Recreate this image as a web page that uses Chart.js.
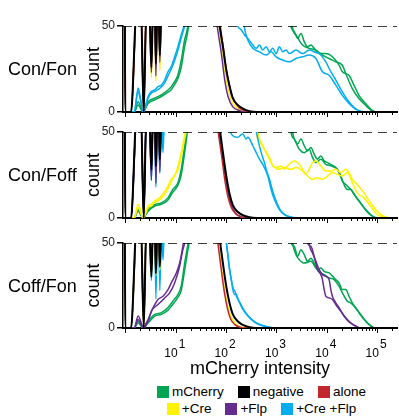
<!DOCTYPE html>
<html lang="en">
  <head>
    <meta charset="utf-8" />
    <title>mCherry intensity histograms</title>
    <style>
      html, body { margin: 0; padding: 0; background: #fff; overflow: hidden; }
      #wrap { position: relative; width: 399px; height: 416px; font-family: "Liberation Sans", Arial, sans-serif; }
      canvas { position: absolute; left: 0; }
      #legend { position: absolute; left: 124px; top: 383px; width: 275px; font-size: 13.5px; color: #000; }
      .row { display: flex; justify-content: center; height: 17px; line-height: 17px; }
      .item { display: flex; align-items: center; margin: 0 7px; }
      .sw { width: 12px; height: 12px; margin-right: 3px; }
    </style>
  </head>
  <body>
    <div id="wrap">
      <canvas id="c0" width="399" height="122" style="top: 0px"></canvas>
      <canvas id="c1" width="399" height="106" style="top: 122px"></canvas>
      <canvas id="c2" width="399" height="153" style="top: 228px"></canvas>
      <div id="legend"></div>
    </div>

    <script src="https://cdn.jsdelivr.net/npm/chart.js"></script>

    <script>
      const FONT = '"Liberation Sans", Arial, sans-serif';

      const groupNames = ["mCherry", "negative", "alone", "+Cre", "+Flp", "+Cre +Flp"];
      const groupColors = ["#00a651", "#000000", "#c1272d", "#fff200", "#662d91", "#00aeef"];
      const rowNames = ["Con/Fon", "Con/Foff", "Coff/Fon"];
      const xTickPowers = [1, 2, 3, 4, 5];
      const xMin = 0.9;
      const xMax = 2.5e5;
      const saturation = 50;

      // ---- Con/Fon ----
      const conFon_negative = [[0.97,95],[1,0],[1.3,0],[1.68,60],[2.05,60],[2.32,0],[2.62,60],[3,60],[3.3,26],[3.56,60],[3.85,60],[4.05,28],[4.35,60],[4.6,60],[4.85,33],[5.2,60],[8,85],[40,90],[68,62],[75,50],[87,38],[102,24],[118,15],[137,8],[173,4],[217,2],[294,0.5],[400,0],[2.5e5,0]];
      const conFon_alone = [[0.97,95],[1,0],[1.3,0],[1.7,60],[2.05,60],[2.32,3],[2.62,60],[3,60],[3.3,30],[3.56,60],[3.85,60],[4.05,31],[4.35,60],[4.6,60],[4.85,36],[5.2,60],[8,85],[40,90],[70,62],[77,50],[89,37],[100,26],[116,16],[135,8.5],[165,4],[200,1.6],[260,0.4],[330,0],[2.5e5,0]];
      const conFon_cre = [[0.97,95],[1,0],[1.3,0],[1.7,60],[2.05,60],[2.32,1],[2.62,60],[3,60],[3.3,20],[3.56,60],[3.85,60],[4.05,18],[4.35,60],[4.6,60],[4.85,24],[5.2,60],[8,85],[40,90],[66,62],[73,50],[84,36],[97,22],[112,13],[130,6.5],[155,3],[190,1.2],[240,0.3],[300,0],[2.5e5,0]];
      const conFon_flp = [[0.97,95],[1,0],[1.3,0],[1.7,60],[2.05,60],[2.32,0],[2.62,60],[3,60],[3.3,23],[3.56,60],[3.85,60],[4.05,21],[4.35,60],[4.6,60],[4.85,29],[5.2,60],[8,85],[40,90],[60,62],[67,50],[81,34],[94,19],[110,9],[137,3],[187,0.8],[240,0],[2.5e5,0]];
      const conFon_creflp_a = [[0.97,95],[1,0],[1.5,0],[1.8,14],[2,8],[2.26,0],[2.84,9],[3.3,12],[3.85,12.8],[4.47,14.7],[5.19,15.7],[6.06,18.6],[7.05,23.4],[8.19,26.4],[9.55,32],[11.1,38],[12.9,44.8],[15.1,52],[20,80],[120,80],[161,52],[201,47.7],[234,44.8],[272,42.8],[342,38.9],[399,37],[463,38.9],[538,36],[628,37.9],[731,35],[849,37],[991,34],[1151,37.9],[1340,35],[1563,36],[1816,34],[2460,36],[3327,34],[4508,36],[6118,34.6],[7115,34],[9640,29.2],[11190,25.3],[15200,18.5],[20530,11.7],[27850,5.8],[37760,1.9],[47440,0.4],[60000,0],[2.5e5,0]];
      const conFon_creflp_b = [[0.97,95],[1,0],[1.5,0],[1.8,12],[2,7],[2.26,0],[2.84,8],[3.3,11],[3.85,12],[4.47,13],[5.19,14.5],[6.06,17],[7.05,21],[8.19,25],[9.55,30],[11.1,36],[12.9,43],[15.1,50],[17,56],[20,80],[180,80],[234,48.7],[272,41.8],[342,37],[463,35],[628,33.1],[789,35],[991,32.1],[1340,30.2],[1816,29.2],[2460,31.1],[3327,32.1],[4508,33.1],[6118,31.1],[8265,23.4],[11190,21.4],[15200,15.6],[20530,9.7],[27850,4.9],[37760,1.6],[50000,0],[2.5e5,0]];
      const conFon_mcherry_a = [[1,0],[1.5,0],[1.8,6],[2.26,0],[2.84,6],[3.85,8],[5.19,10],[7.05,12.8],[8.19,14.7],[9.55,17.6],[11.1,21.5],[12.9,30],[15.1,42],[17.5,50],[22,80],[1500,80],[1959,49.6],[2278,46.7],[2650,42.8],[3091,45.7],[3591,40.9],[4181,37.9],[4874,38.9],[5662,37],[7115,34],[9640,34],[13030,32.1],[17660,27.2],[20530,23.4],[23950,22.4],[27850,21.4],[34920,15.6],[43850,9.7],[59570,4.9],[80400,1],[100000,0],[2.5e5,0]];
      const conFon_mcherry_b = [[1,0],[1.5,0],[1.8,4],[2.26,0],[2.84,5],[3.85,7],[5.19,9],[7.05,11.5],[8.19,13],[9.55,16],[11.1,19.5],[12.9,26],[15.1,38],[17.5,47],[19,55],[24,80],[1700,80],[2113,48.6],[2460,44.8],[3327,38.9],[4508,37],[6118,36],[8265,33.1],[11190,31.1],[15200,29.2],[20530,27.2],[23950,22.4],[32380,13.6],[43850,7.8],[59570,3.9],[80400,0.6],[100000,0],[2.5e5,0]];

      // ---- Con/Foff ----
      const conFoff_negative = [[0.97,95],[1,0],[1.3,0],[1.68,60],[2.05,60],[2.32,0],[2.62,60],[3,60],[3.3,28],[3.56,60],[3.85,60],[4.05,30],[4.35,60],[4.6,60],[4.85,34],[5.2,60],[8,85],[40,90],[70,62],[77,50],[88,37],[102,24],[118,14],[137,7.5],[173,3.5],[217,1.6],[294,0.4],[400,0],[2.5e5,0]];
      const conFoff_alone = [[0.97,95],[1,0],[1.3,0],[1.7,60],[2.05,60],[2.32,2],[2.62,60],[3,60],[3.3,32],[3.56,60],[3.85,60],[4.05,33],[4.35,60],[4.6,60],[4.85,38],[5.2,60],[8,85],[40,90],[62,62],[70,50],[82,36],[95,22],[110,12],[128,6],[155,2.5],[190,0.8],[240,0],[2.5e5,0]];
      const conFoff_flp = [[0.97,95],[1,0],[1.3,0],[1.7,60],[2.05,60],[2.32,0],[2.62,60],[3,60],[3.3,22],[3.56,60],[3.85,60],[4.05,20],[4.35,60],[4.6,60],[4.85,27],[5.2,60],[8,85],[40,90],[66,62],[73,50],[85,36],[98,23],[113,13],[132,6.5],[160,2.5],[200,0.8],[250,0],[2.5e5,0]];
      const conFoff_creflp_a = [[0.97,95],[1,0],[1.3,0],[1.7,60],[2.05,60],[2.32,2],[2.62,60],[3,60],[3.3,22],[3.56,60],[3.85,60],[4.05,18],[4.35,60],[4.6,60],[4.85,26],[5.2,60],[5.6,38],[6,60],[8,85],[80,85],[110,60],[128,48.8],[173,46.9],[201,48.5],[217,48.8],[250,46],[272,46.9],[342,42],[399,38],[463,34.2],[538,31.2],[678,24.4],[789,16.6],[917,10.7],[1151,4.9],[1445,2],[1959,0.6],[2600,0],[2.5e5,0]];
      const conFoff_creflp_b = [[0.97,95],[1,0],[1.3,0],[1.7,60],[2.05,60],[2.32,3],[2.62,60],[3,60],[3.3,26],[3.56,60],[3.85,60],[4.05,22],[4.35,60],[4.6,60],[4.85,30],[5.2,60],[5.6,44],[6,60],[8,85],[300,85],[399,51],[430,45.9],[501,38],[582,32.2],[628,28.3],[731,22.5],[849,15.6],[991,9.8],[1245,3.9],[1679,1],[2278,0],[2.5e5,0]];
      const conFoff_cre_a = [[0.97,95],[1,0],[1.5,0],[1.8,8],[2.26,0],[2.84,7],[3.3,8],[3.85,10],[4.47,11],[5.61,14],[7.05,18.6],[8.19,22.5],[9.55,24.4],[11.1,30],[12.9,38],[15.1,48],[16.5,53],[20,80],[300,80],[399,49.8],[463,44.9],[582,40],[731,35.2],[849,30.3],[991,29.3],[1245,30.3],[1445,28.3],[1679,30.3],[1959,32.2],[2278,33.2],[2866,31.2],[3327,28.3],[3880,25.4],[4508,28.3],[5241,32.2],[6118,33.2],[7674,30.3],[9640,27.3],[12100,27.3],[15200,28.3],[19090,26.4],[23950,28.3],[27850,26.4],[32380,22.5],[40640,19.5],[55100,14.6],[74800,8.8],[101000,3.9],[136900,1],[185700,0],[2.5e5,0]];
      const conFoff_cre_b = [[0.97,95],[1,0],[1.5,0],[1.8,6],[2.26,0],[2.84,6],[3.3,7],[3.85,9],[4.47,10],[5.61,12.5],[7.05,17],[8.19,21],[9.55,25],[11.1,28],[12.9,36],[15.1,46],[16.5,52],[20,80],[330,80],[430,49.8],[501,43.9],[628,38],[789,32.2],[1067,28.3],[1445,29.3],[1959,28.3],[2460,29.3],[3327,27.3],[4181,24.4],[5241,22.5],[6579,23.4],[8265,22.5],[10380,24.4],[13030,26.4],[16340,25.4],[20530,24.4],[25770,26.4],[32380,20.5],[40640,14.6],[55100,11.7],[74800,6.8],[93800,2.9],[117800,1],[159300,0],[2.5e5,0]];
      const conFoff_mcherry_a = [[1,0],[1.5,0],[1.8,5],[2.26,0],[2.84,5],[3.85,7.8],[5.19,8.8],[7.05,11.7],[8.8,16.6],[11.1,20.5],[12.9,28.3],[15.1,42],[16.3,50],[20,80],[1600,80],[1959,49.8],[2278,45.9],[2650,43],[3091,45.9],[3591,42],[4181,39],[4874,41],[5662,37.1],[6579,34.2],[7674,36.1],[8928,33.2],[10380,32.2],[12100,31.2],[15200,29.3],[17660,26.4],[20530,21.5],[23950,19.5],[27850,17.6],[32380,15.6],[37760,12.7],[47440,8.8],[59570,4.9],[74800,2],[86900,0.6],[100000,0],[2.5e5,0]];
      const conFoff_mcherry_b = [[1,0],[1.5,0],[1.8,4],[2.26,0],[2.84,4],[3.85,7],[5.19,8],[7.05,10.5],[8.8,15],[11.1,19],[12.9,25],[15.1,38],[17,50],[21,80],[1700,80],[2113,49.8],[2460,43.9],[2866,40],[3591,38],[4508,40],[5241,35.2],[6118,32.2],[7674,34.2],[9640,31.2],[12100,30.3],[16340,28.3],[19090,24.4],[22190,19.5],[25770,16.6],[30080,16.6],[34920,13.7],[43850,9.8],[55100,5.9],[69200,2.5],[86900,0.6],[100000,0],[2.5e5,0]];

      // ---- Coff/Fon ----
      const coffFon_negative = [[0.97,95],[1,0],[1.3,0],[1.68,60],[2.05,60],[2.32,0],[2.62,60],[3,60],[3.3,30],[3.56,60],[3.85,60],[4.05,32],[4.35,60],[4.6,60],[4.85,36],[5.2,60],[8,85],[40,90],[70,62],[77,50],[88,37],[102,24],[118,14.5],[137,8],[173,3.8],[217,1.8],[294,0.4],[400,0],[2.5e5,0]];
      const coffFon_alone = [[0.97,95],[1,0],[1.3,0],[1.7,60],[2.05,60],[2.32,2],[2.62,60],[3,60],[3.3,33],[3.56,60],[3.85,60],[4.05,35],[4.35,60],[4.6,60],[4.85,38],[5.2,60],[8,85],[40,90],[62,62],[69,50],[80,35],[93,21],[108,11],[125,5],[150,2],[185,0.6],[230,0],[2.5e5,0]];
      const coffFon_cre = [[0.97,95],[1,0],[1.3,0],[1.7,60],[2.05,60],[2.32,1],[2.62,60],[3,60],[3.3,30],[3.56,60],[3.85,60],[4.05,31],[4.35,60],[4.6,60],[4.85,34],[5.2,60],[8,85],[40,90],[64,62],[71,50],[82,35],[95,22],[110,12],[128,6],[155,2.5],[190,0.8],[240,0],[2.5e5,0]];
      const coffFon_creflp_a = [[0.97,95],[1,0],[1.3,0],[1.7,60],[2.05,60],[2.32,2],[2.62,60],[3,60],[3.3,28],[3.56,60],[3.85,60],[4.05,17],[4.35,60],[4.6,60],[4.85,22],[5.2,60],[5.6,40],[6,60],[8,85],[60,85],[90,60],[102,50],[110,42],[118,34.3],[128,28.5],[137,22.6],[149,19.7],[161,19.7],[175,16.8],[187,14.8],[217,10.9],[272,7],[369,3.5],[501,1.6],[678,0.6],[849,0.1],[1100,0],[2.5e5,0]];
      const coffFon_creflp_b = [[0.97,95],[1,0],[1.3,0],[1.7,60],[2.05,60],[2.32,3],[2.62,60],[3,60],[3.3,33],[3.56,60],[3.85,60],[4.05,24],[4.35,60],[4.6,60],[4.85,28],[5.2,60],[5.6,46],[6,60],[8,85],[60,85],[93,60],[104,48],[112,40],[120,33],[130,27],[140,23],[152,21.5],[165,18],[187,15.2],[217,11.5],[272,7.4],[369,3.8],[501,1.8],[678,0.7],[900,0],[2.5e5,0]];
      const coffFon_flp_a = [[1,0],[1.5,0],[1.8,7],[2.26,1],[2.84,5],[3.56,11.9],[4.47,16.8],[5.61,18.7],[7.05,22.6],[8.19,26.5],[10.3,32.4],[12,38.2],[13.9,48],[15,55],[20,80],[3500,80],[4181,50],[4874,48],[5662,42.1],[6579,34.3],[7674,31.4],[8265,28.5],[8928,22.6],[9640,18.7],[11190,17.7],[13030,16.8],[15200,13.8],[19090,9.9],[23950,6],[30080,3.1],[37760,1.2],[43850,0.2],[50000,0],[2.5e5,0]];
      const coffFon_flp_b = [[1,0],[1.5,0],[1.8,5],[2.26,0],[2.84,4],[3.3,10],[4.47,13.8],[6.06,17.7],[7.6,20.7],[9.55,26.5],[12,36.3],[13.9,46],[15.1,50],[20,80],[3800,80],[4508,50],[5241,44.1],[6118,39.2],[7115,34.3],[8265,31.4],[9640,30.4],[11190,28.5],[12100,22.6],[13030,18.7],[15200,14.8],[17660,11.9],[22190,7],[27850,3.5],[34920,1.6],[43850,0.2],[50000,0],[2.5e5,0]];
      const coffFon_mcherry_a = [[1,0],[1.5,0],[1.8,4],[2.26,0],[2.84,4],[3.85,8],[5.19,9],[7.05,12],[8.8,15.8],[11.1,19.7],[12.9,24.6],[15.1,38],[17.5,49],[19,55],[24,80],[1600,80],[1959,50],[2278,48],[2650,42.1],[3091,46],[3591,43.1],[4181,39.2],[4874,41.1],[5662,38.2],[6579,34.3],[7674,35.3],[8928,33.3],[11190,32.4],[14060,29.4],[17660,26.5],[20530,22.6],[23950,22.6],[27850,18.7],[32380,14.8],[37760,11.9],[47440,8],[59570,4.1],[74800,1.2],[86900,0.2],[100000,0],[2.5e5,0]];
      const coffFon_mcherry_b = [[1,0],[1.5,0],[1.8,3],[2.26,0],[2.84,3],[3.85,7],[5.19,8],[7.05,10.5],[8.8,14],[11.1,18],[12.9,22],[15.1,34],[17.5,46],[19,52],[24,80],[1700,80],[2113,50],[2460,43.1],[2866,40.2],[3591,38.2],[4874,39.2],[6118,35.3],[7674,32.4],[8928,31.4],[11190,29.4],[14060,28.5],[17660,24.6],[20530,20.7],[25770,15.8],[30080,14.8],[34920,12.9],[43850,9],[55100,5.1],[69200,2.1],[86900,0.2],[100000,0],[2.5e5,0]];

      // first entry is drawn on top
      const panels = [
        [["negative", conFon_negative], ["alone", conFon_alone], ["+Flp", conFon_flp], ["+Cre", conFon_cre],
         ["+Cre +Flp", conFon_creflp_a], ["+Cre +Flp", conFon_creflp_b], ["mCherry", conFon_mcherry_a], ["mCherry", conFon_mcherry_b]],
        [["negative", conFoff_negative], ["alone", conFoff_alone], ["+Flp", conFoff_flp], ["+Cre +Flp", conFoff_creflp_a],
         ["+Cre +Flp", conFoff_creflp_b], ["+Cre", conFoff_cre_a], ["+Cre", conFoff_cre_b], ["mCherry", conFoff_mcherry_a], ["mCherry", conFoff_mcherry_b]],
        [["negative", coffFon_negative], ["alone", coffFon_alone], ["+Cre", coffFon_cre], ["+Cre +Flp", coffFon_creflp_a],
         ["+Cre +Flp", coffFon_creflp_b], ["+Flp", coffFon_flp_a], ["+Flp", coffFon_flp_b], ["mCherry", coffFon_mcherry_a], ["mCherry", coffFon_mcherry_b]],
      ];

      const layouts = [
        { padTop: 26, axisHeight: 10 },
        { padTop: 10, axisHeight: 10 },
        { padTop: 15, axisHeight: 53 },
      ];

      const colorOf = (name) => groupColors[groupNames.indexOf(name)];

      function panelDecor(rowName, withTickLabels) {
        return {
          id: "panelDecor",
          afterDraw(chart) {
            const { ctx, chartArea } = chart;
            const x = chart.scales.x;
            ctx.save();
            ctx.strokeStyle = "#000";
            ctx.lineWidth = 1;
            for (let p = 0; p <= 5; p++) {
              for (let m = 1; m <= 9; m++) {
                const v = m * Math.pow(10, p);
                if (v < x.min || v > x.max) continue;
                const px = Math.round(x.getPixelForValue(v)) + 0.5;
                ctx.beginPath();
                ctx.moveTo(px, x.top);
                ctx.lineTo(px, x.top + (m === 1 ? 5 : 3));
                ctx.stroke();
              }
            }
            ctx.fillStyle = "#000";
            ctx.textBaseline = "alphabetic";
            ctx.textAlign = "left";
            ctx.font = "18px " + FONT;
            ctx.fillText(rowName, 8, (chartArea.top + chartArea.bottom) / 2 + 6.3);
            if (withTickLabels) {
              ctx.font = "12px " + FONT;
              xTickPowers.forEach((p) => {
                const px = x.getPixelForValue(Math.pow(10, p));
                ctx.textAlign = "right";
                ctx.fillText("10", px + 2, x.top + 29);
                ctx.textAlign = "left";
                ctx.fillText(String(p), px + 3, x.top + 20);
              });
            }
            ctx.restore();
          },
        };
      }

      panels.forEach((series, i) => {
        const last = i === panels.length - 1;
        const datasets = [
          {
            data: [{ x: xMin, y: saturation }, { x: xMax, y: saturation }],
            borderColor: "#000",
            borderWidth: 1.5,
            borderDash: [9, 6],
          },
        ].concat(
          series.map(([name, pts]) => ({
            label: name,
            data: pts.map(([x, y]) => ({ x, y })),
            borderColor: colorOf(name),
            borderWidth: name === "negative" ? 2 : 1.5,
          }))
        );

        new Chart(document.getElementById("c" + i), {
          type: "line",
          data: { datasets },
          plugins: [panelDecor(rowNames[i], last)],
          options: {
            responsive: false,
            animation: false,
            devicePixelRatio: 1,
            layout: { padding: { left: 83, right: 2, top: layouts[i].padTop, bottom: 0 } },
            elements: {
              point: { radius: 0 },
              line: { cubicInterpolationMode: "monotone", fill: false },
            },
            plugins: { legend: { display: false }, tooltip: { enabled: false } },
            scales: {
              x: {
                type: "logarithmic",
                min: xMin,
                max: xMax,
                grid: { display: true, drawOnChartArea: false, drawTicks: false },
                border: { display: true, color: "#000", width: 2 },
                ticks: { display: false },
                title: {
                  display: last,
                  text: "mCherry intensity",
                  color: "#000",
                  font: { size: 18, family: FONT },
                  padding: { top: 0, bottom: 1 },
                },
                afterFit: (s) => { s.height = layouts[i].axisHeight; },
              },
              y: {
                min: 0,
                max: saturation,
                ticks: { stepSize: 50, color: "#222", font: { size: 12, family: FONT }, padding: 2 },
                grid: { display: true, drawOnChartArea: false, drawTicks: true, tickLength: 6, color: "#000", lineWidth: 1.5 },
                border: { color: "#000", width: 1.5 },
                title: { display: true, text: "count", color: "#000", font: { size: 18, family: FONT }, padding: 0 },
                afterFit: (s) => { s.width = 40; },
              },
            },
          },
        });
      });

      // legend, two rows of three like the figure
      const legendEl = document.getElementById("legend");
      [groupNames.slice(0, 3), groupNames.slice(3)].forEach((rowItems) => {
        const row = document.createElement("div");
        row.className = "row";
        rowItems.forEach((name) => {
          const item = document.createElement("span");
          item.className = "item";
          const sw = document.createElement("span");
          sw.className = "sw";
          sw.style.background = colorOf(name);
          item.appendChild(sw);
          item.appendChild(document.createTextNode(name));
          row.appendChild(item);
        });
        legendEl.appendChild(row);
      });
    </script>
  </body>
</html>
